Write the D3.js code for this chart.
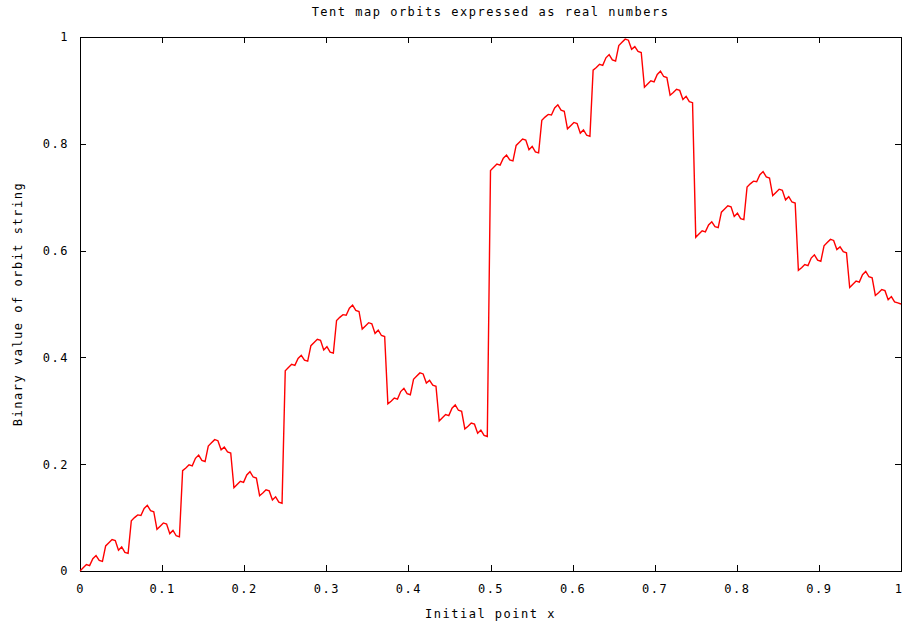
<!DOCTYPE html>
<meta charset="utf-8">
<style>
body { margin: 0; background: #fff; }
svg text {
  font-family: "DejaVu Sans Mono", monospace;
  font-size: 12px;
  letter-spacing: 1.5px;
  fill: #000;
}
.axis path { display: none; }
.axis line { stroke: #000; shape-rendering: crispEdges; }
.frame { fill: none; stroke: #000; shape-rendering: crispEdges; }
.orbit { fill: none; stroke: #ff0000; stroke-width: 1.4; }
</style>
<body>
<script src="https://d3js.org/d3.v7.min.js"></script>
<script>

// tick labels
var xTicks = [0, 0.1, 0.2, 0.3, 0.4, 0.5, 0.6, 0.7, 0.8, 0.9, 1];
var yTicks = [0, 0.2, 0.4, 0.6, 0.8, 1];

// binary value of the orbit string, read at 257 evenly spaced initial points (0 .. 1)
var orbitValue = [
  0, 0.006, 0.012, 0.010, 0.023, 0.029, 0.020, 0.018, 0.047, 0.053, 0.059, 0.057, 0.039, 0.045, 0.035, 0.033,
  0.094, 0.100, 0.105, 0.104, 0.117, 0.123, 0.113, 0.111, 0.078, 0.084, 0.090, 0.088, 0.070, 0.076, 0.066, 0.064,
  0.188, 0.193, 0.199, 0.197, 0.211, 0.217, 0.207, 0.205, 0.234, 0.240, 0.246, 0.244, 0.227, 0.232, 0.223, 0.221,
  0.156, 0.162, 0.168, 0.166, 0.180, 0.186, 0.176, 0.174, 0.141, 0.146, 0.152, 0.150, 0.133, 0.139, 0.129, 0.127,
  0.375, 0.381, 0.387, 0.385, 0.398, 0.404, 0.395, 0.393, 0.422, 0.428, 0.434, 0.432, 0.414, 0.420, 0.410, 0.408,
  0.469, 0.475, 0.480, 0.479, 0.492, 0.498, 0.488, 0.486, 0.453, 0.459, 0.465, 0.463, 0.445, 0.451, 0.441, 0.439,
  0.313, 0.318, 0.324, 0.322, 0.336, 0.342, 0.332, 0.330, 0.359, 0.365, 0.371, 0.369, 0.352, 0.357, 0.348, 0.346,
  0.281, 0.287, 0.293, 0.291, 0.305, 0.311, 0.301, 0.299, 0.266, 0.271, 0.277, 0.275, 0.258, 0.264, 0.254, 0.252,
  0.750, 0.756, 0.762, 0.760, 0.773, 0.779, 0.770, 0.768, 0.797, 0.803, 0.809, 0.807, 0.789, 0.795, 0.785, 0.783,
  0.844, 0.850, 0.855, 0.854, 0.867, 0.873, 0.863, 0.861, 0.828, 0.834, 0.840, 0.838, 0.820, 0.826, 0.816, 0.814,
  0.938, 0.943, 0.949, 0.947, 0.961, 0.967, 0.957, 0.955, 0.984, 0.990, 0.996, 0.994, 0.977, 0.982, 0.973, 0.971,
  0.906, 0.912, 0.918, 0.916, 0.930, 0.936, 0.926, 0.924, 0.891, 0.896, 0.902, 0.900, 0.883, 0.889, 0.879, 0.877,
  0.625, 0.631, 0.637, 0.635, 0.648, 0.654, 0.645, 0.643, 0.672, 0.678, 0.684, 0.682, 0.664, 0.670, 0.660, 0.658,
  0.719, 0.725, 0.730, 0.729, 0.742, 0.748, 0.738, 0.736, 0.703, 0.709, 0.715, 0.713, 0.695, 0.701, 0.691, 0.689,
  0.563, 0.568, 0.574, 0.572, 0.586, 0.592, 0.582, 0.580, 0.609, 0.615, 0.621, 0.619, 0.602, 0.607, 0.598, 0.596,
  0.531, 0.537, 0.543, 0.541, 0.555, 0.561, 0.551, 0.549, 0.516, 0.521, 0.527, 0.525, 0.508, 0.514, 0.504, 0.502,
  0.500
];

var margin = {top: 37, right: 2, bottom: 56, left: 80},
    width = 903 - margin.left - margin.right,
    height = 627 - margin.top - margin.bottom;

var x = d3.scaleLinear().domain([0, 1]).range([0, width]);
var y = d3.scaleLinear().domain([0, 1]).range([height, 0]);

// sample grid: index i sits at i / (n - 1)
var n = orbitValue.length;
var points = orbitValue.map(function(v, i) { return [i / (n - 1), v]; });

var svg = d3.select('body').append('svg')
    .attr('width', 903)
    .attr('height', 627);

var chart = svg.append('g')
    .attr('transform', 'translate(' + margin.left + ',' + margin.top + ')');

// gnuplot style: inward ticks on all four sides
var xAxisG = chart.append('g').attr('class', 'axis')
    .attr('transform', 'translate(0,' + height + ')')
    .call(d3.axisBottom(x).tickValues(xTicks).tickFormat(d3.format('')).tickSizeInner(-6).tickSizeOuter(0).tickPadding(13));

// last label sits on the right edge, keep it inside the page
xAxisG.selectAll('.tick text')
    .filter(function(d) { return d === 1; })
    .attr('text-anchor', 'end')
    .attr('dx', '2px');

chart.append('g').attr('class', 'axis')
    .call(d3.axisTop(x).tickValues(xTicks).tickFormat('').tickSizeInner(-6).tickSizeOuter(0));

chart.append('g').attr('class', 'axis')
    .call(d3.axisLeft(y).tickValues(yTicks).tickFormat(d3.format('')).tickSizeInner(-6).tickSizeOuter(0).tickPadding(11));

chart.append('g').attr('class', 'axis')
    .attr('transform', 'translate(' + width + ',0)')
    .call(d3.axisRight(y).tickValues(yTicks).tickFormat('').tickSizeInner(-6).tickSizeOuter(0));

chart.selectAll('.axis text').style('font-family', null);
chart.selectAll('.axis').attr('font-family', null).attr('font-size', null);

chart.append('rect').attr('class', 'frame')
    .attr('x', 0).attr('y', 0)
    .attr('width', width).attr('height', height);

var line = d3.line()
    .x(function(d) { return x(d[0]); })
    .y(function(d) { return y(d[1]); });

chart.append('path')
    .datum(points)
    .attr('class', 'orbit')
    .attr('d', line);

// titles
svg.append('text')
    .attr('x', margin.left + width / 2).attr('y', 16)
    .attr('text-anchor', 'middle')
    .text('Tent map orbits expressed as real numbers');

svg.append('text')
    .attr('x', margin.left + width / 2).attr('y', 618)
    .attr('text-anchor', 'middle')
    .text('Initial point x');

svg.append('text')
    .attr('transform', 'translate(18,' + (margin.top + height / 2) + ') rotate(-90)')
    .attr('text-anchor', 'middle')
    .attr('dy', '0.35em')
    .text('Binary value of orbit string');

</script>
</body>
